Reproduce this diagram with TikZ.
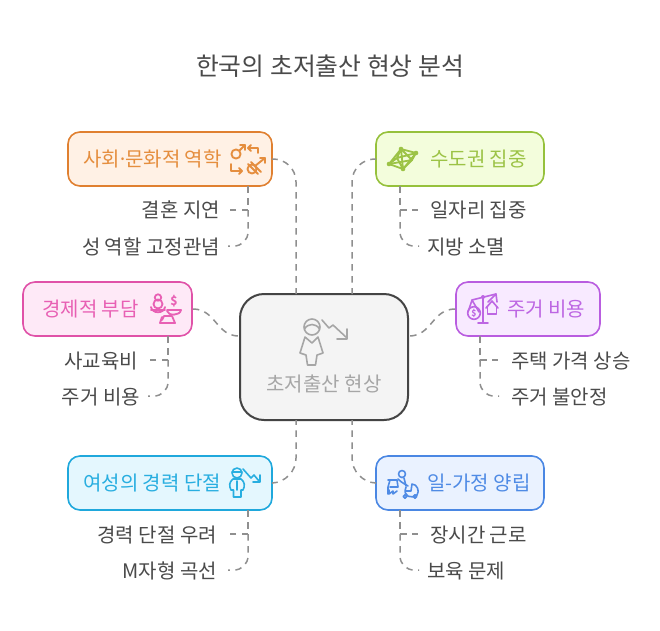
\documentclass[tikz,border=0pt]{standalone}
\usepackage{fontspec}
\setmainfont{Noto Sans CJK KR}
\usetikzlibrary{arrows.meta}
\definecolor{oL}{HTML}{E08030}\definecolor{oF}{HTML}{FFF1E5}\definecolor{oT}{HTML}{E58E3E}
\definecolor{gL}{HTML}{96C13C}\definecolor{gF}{HTML}{F3FDDC}\definecolor{gT}{HTML}{9CC346}
\definecolor{pL}{HTML}{E052A8}\definecolor{pF}{HTML}{FEE9F7}\definecolor{pT}{HTML}{E860B4}
\definecolor{vL}{HTML}{B95DE0}\definecolor{vF}{HTML}{F8EAFF}\definecolor{vT}{HTML}{BD66E3}
\definecolor{cL}{HTML}{1FA8DC}\definecolor{cF}{HTML}{E4F7FE}\definecolor{cT}{HTML}{28AEE0}
\definecolor{bL}{HTML}{4A87E3}\definecolor{bF}{HTML}{EAF2FF}\definecolor{bT}{HTML}{4F8BE5}
\definecolor{cenL}{HTML}{444444}\definecolor{cenF}{HTML}{F4F4F4}\definecolor{cenT}{HTML}{A6A6A6}
\definecolor{lnk}{HTML}{8F8F8F}\definecolor{ink}{HTML}{4A4A4A}
\tikzset{
  x=1pt,y=-1pt,
  boxn/.style={draw=#1L,fill=#1F,line width=1.6pt,rounded corners=12pt,inner sep=0pt,minimum height=54pt},
  cen/.style={draw=cenL,fill=cenF,line width=2pt,rounded corners=24pt,inner sep=0pt,minimum width=168pt,minimum height=126pt},
  lab/.style={inner sep=0pt,font=\fontsize{20pt}{22pt}\selectfont,text height=17pt,text depth=0pt},
  link/.style={draw=lnk,line width=1.5pt,dash pattern=on 6.5pt off 5.5pt},
  ico/.style={draw=#1,line width=1.6pt,line join=round,line cap=round,fill=none},
}
\begin{document}
\begin{tikzpicture}
\useasboundingbox (0,0) rectangle (660,630);
\fill[white] (0,0) rectangle (660,630);
% title
\node[lab,anchor=center,text=ink,font=\fontsize{24.8pt}{28pt}\selectfont,text height=21pt] (title) at (330,65) {한국의 초저출산 현상 분석};
% coordinates for connector free ends
\coordinate (tl) at (296,294); \coordinate (tr) at (352,294);
\coordinate (bl) at (296,420); \coordinate (br) at (352,420);
% boxes
\node[cen] (center) at (324,357) {};
\node[boxn=o,minimum width=204pt] (socio) at (170,159) {};
\node[boxn=g,minimum width=168pt] (metro) at (460,159) {};
\node[boxn=p,minimum width=169pt] (econ) at (107.5,309) {};
\node[boxn=v,minimum width=144pt] (house) at (528,309) {};
\node[boxn=c,minimum width=204pt] (career) at (170,483) {};
\node[boxn=b,minimum width=168pt] (balance) at (460,483) {};
% box labels
\node[lab,anchor=west,text=oT] (socioT) at (83,158) {사회\kern-3pt·\kern-3pt문화적 역학};
\node[lab,anchor=west,text=gT] (metroT) at (430,158) {수도권 집중};
\node[lab,anchor=west,text=pT] (econT) at (42,308) {경제적 부담};
\node[lab,anchor=west,text=vT] (houseT) at (507,308) {주거 비용};
\node[lab,anchor=west,text=cT] (careerT) at (83,482) {여성의 경력 단절};
\node[lab,anchor=west,text=bT] (balanceT) at (427,482) {일-가정 양립};
\node[lab,anchor=center,text=cenT] (cenT1) at (324,383) {초저출산 현상};
% leaves
\node[lab,anchor=east,text=ink] (l1) at (220,209) {결혼 지연};
\node[lab,anchor=east,text=ink] (l2) at (220,246) {성 역할 고정관념};
\node[lab,anchor=west,text=ink] (l3) at (430,209) {일자리 집중};
\node[lab,anchor=west,text=ink] (l4) at (427,246) {지방 소멸};
\node[lab,anchor=east,text=ink] (l5) at (138,360) {사교육비};
\node[lab,anchor=east,text=ink] (l6) at (140,396) {주거 비용};
\node[lab,anchor=west,text=ink] (l7) at (511,360) {주택 가격 상승};
\node[lab,anchor=west,text=ink] (l8) at (511,396) {주거 불안정};
\node[lab,anchor=east,text=ink] (l9) at (217,534) {경력 단절 우려};
\node[lab,anchor=east,text=ink] (l10) at (217,570) {M자형 곡선};
\node[lab,anchor=west,text=ink] (l11) at (430,534) {장시간 근로};
\node[lab,anchor=west,text=ink] (l12) at (427,570) {보육 문제};
% center connectors
\draw[link,rounded corners=24pt] (socio.east) -- (296,158) -- (tl);
\draw[link,rounded corners=24pt] (metro.west) -- (352,158) -- (tr);
\draw[link,rounded corners=24pt] (career.east) -- (296,482) -- (bl);
\draw[link,rounded corners=24pt] (balance.west) -- (352,482) -- (br);
\draw[link] (econ.east) .. controls (216,309) and (216,336) .. (center.west |- 0,336);
\draw[link] (house.west) .. controls (432,309) and (432,336) .. (center.east |- 0,336);
% leaf connectors
\coordinate (s1) at (248,186);\coordinate (s2) at (400,186);\coordinate (s3) at (168,336);
\coordinate (s4) at (480,336);\coordinate (s5) at (248,510);\coordinate (s6) at (400,510);
\draw[link] (s1) -- (248,210) -- (230,210);
\draw[link,rounded corners=14pt] (s1) -- (248,246) -- (228,246);
\draw[link] (s2) -- (400,210) -- (418,210);
\draw[link,rounded corners=14pt] (s2) -- (400,246) -- (419,246);
\draw[link] (s3) -- (168,360) -- (150,360);
\draw[link,rounded corners=14pt] (s3) -- (168,396) -- (148,396);
\draw[link] (s4) -- (480,360) -- (498,360);
\draw[link,rounded corners=14pt] (s4) -- (480,396) -- (499,396);
\draw[link] (s5) -- (248,534) -- (230,534);
\draw[link,rounded corners=14pt] (s5) -- (248,570) -- (228,570);
\draw[link] (s6) -- (400,534) -- (418,534);
\draw[link,rounded corners=14pt] (s6) -- (400,570) -- (419,570);
% center icon
\begin{scope}[ico=cenT]
\draw (312,327) circle (8);
\draw (304.5,329) .. controls (308,323) and (316,323) .. (319.5,329);
\draw (305,337) -- (300,353) -- (306,355) -- (307.5,365) -- (315.5,365) -- (317,355) -- (323,353) -- (318,337) -- (312,343) -- cycle;
\draw (322,320) -- (329,328) -- (333,325) -- (347,338);
\draw (347,329) -- (347,339) -- (337,339);
\end{scope}
% socio icon
\begin{scope}[ico=oT,line width=1.9pt]
\draw (236,154) circle (4.6);
\draw (239.5,150.5) -- (245,145); \draw (240,145) -- (245,145) -- (245,150);
\draw (258,153) -- (258,148) -- (248,148); \draw (251,145) -- (248,148) -- (251,151);
\draw (231,164) -- (231,171) -- (242,171); \draw (239,168) -- (242,171) -- (239,174);
\draw (252,169) circle (4.5);
\draw (255,166) -- (265,158); \draw (260,158) -- (265,158) -- (265,163);
\draw (248,164) -- (258,174); \draw (251,162) -- (261,172);
\end{scope}
% metro icon
\begin{scope}[ico=gT,line width=1.8pt]
\draw (389,164) -- (401,149) -- (416,153) -- (412,160) -- (403,169) -- (389,164) -- (397,158) -- (401,149) -- (403,169) -- (397,158) -- (416,153) -- (403,169);
\draw (389,164) -- (412,160) -- (401,149);
\foreach \p in {(389,164),(401,149),(416,153),(403,169)} \fill[gT] \p circle (2.3);
\end{scope}
% econ icon
\begin{scope}[ico=pT,line width=1.8pt]
\draw (158,297.5) circle (3.2);
\draw (158,304) circle (4.5);
\draw (151,307) .. controls (152,314) and (164,314) .. (165,307);
\draw (151,310) -- (165,310);
\draw (162,320) -- (164,316) -- (172,316) -- (175,323) -- (160,323) -- (162,317);
\draw (167,311) .. controls (168,316) and (180,316) .. (181,310) -- (167,310);
\node[inner sep=0pt,text=pT,font=\fontsize{12pt}{13pt}\bfseries\selectfont] (econD) at (174,301) {\$};
\end{scope}
% house icon
\begin{scope}[ico=vT]
\draw (483,298) -- (483,323); \draw (478,323) -- (488,323);
\draw (472,300) -- (496,294);
\fill[vT] (483,297) circle (2);
\draw (474,313) circle (6.3);
\draw (468,312) -- (472,300) -- (479,312);
\draw (486,308) -- (492,301) -- (498,308); \draw (487.5,307) -- (487.5,314) -- (496.5,314) -- (496.5,307);
\draw (488,302) -- (496,294) -- (497,302);
\node[inner sep=0pt,text=vT,font=\fontsize{8.5pt}{9pt}\bfseries\selectfont] (houseD) at (474,313.5) {\$};
\end{scope}
% career icon
\begin{scope}[ico=cT]
\draw (237,473) circle (5);
\draw (232,472) -- (242,472);
\draw (233,479) .. controls (229,482) and (229,486) .. (231,490) -- (233.5,490) -- (233.5,497) -- (241,497) -- (241,490) -- (243,490) .. controls (245,486) and (245,482) .. (241,479) -- cycle;
\draw (237.2,481) -- (237.2,490);
\draw (243,469) -- (251,478) -- (254,475) -- (259,481);
\draw (260,475) -- (260,482) -- (253,482);
\end{scope}
% balance icon
\begin{scope}[ico=bT]
\draw (402,474) circle (3.5);
\draw (388,480) -- (397,480) -- (398,487) -- (390,487);
\draw (390,480) -- (388,487) -- (388,494);
\draw (389,490) -- (389,494) -- (393,491) -- (393,494) -- (397,491);
\draw (398,479) .. controls (402,483) and (405,484) .. (408,486);
\draw (404,478) -- (406,486);
\draw (406,487) .. controls (402,497) and (412,499) .. (417,495) .. controls (420,491) and (417,484) .. (412,484) -- (411,491) -- (406,491);
\draw (405,496.5) circle (1.7); \draw (415,496.5) circle (1.7);
\end{scope}
\end{tikzpicture}
\end{document}
